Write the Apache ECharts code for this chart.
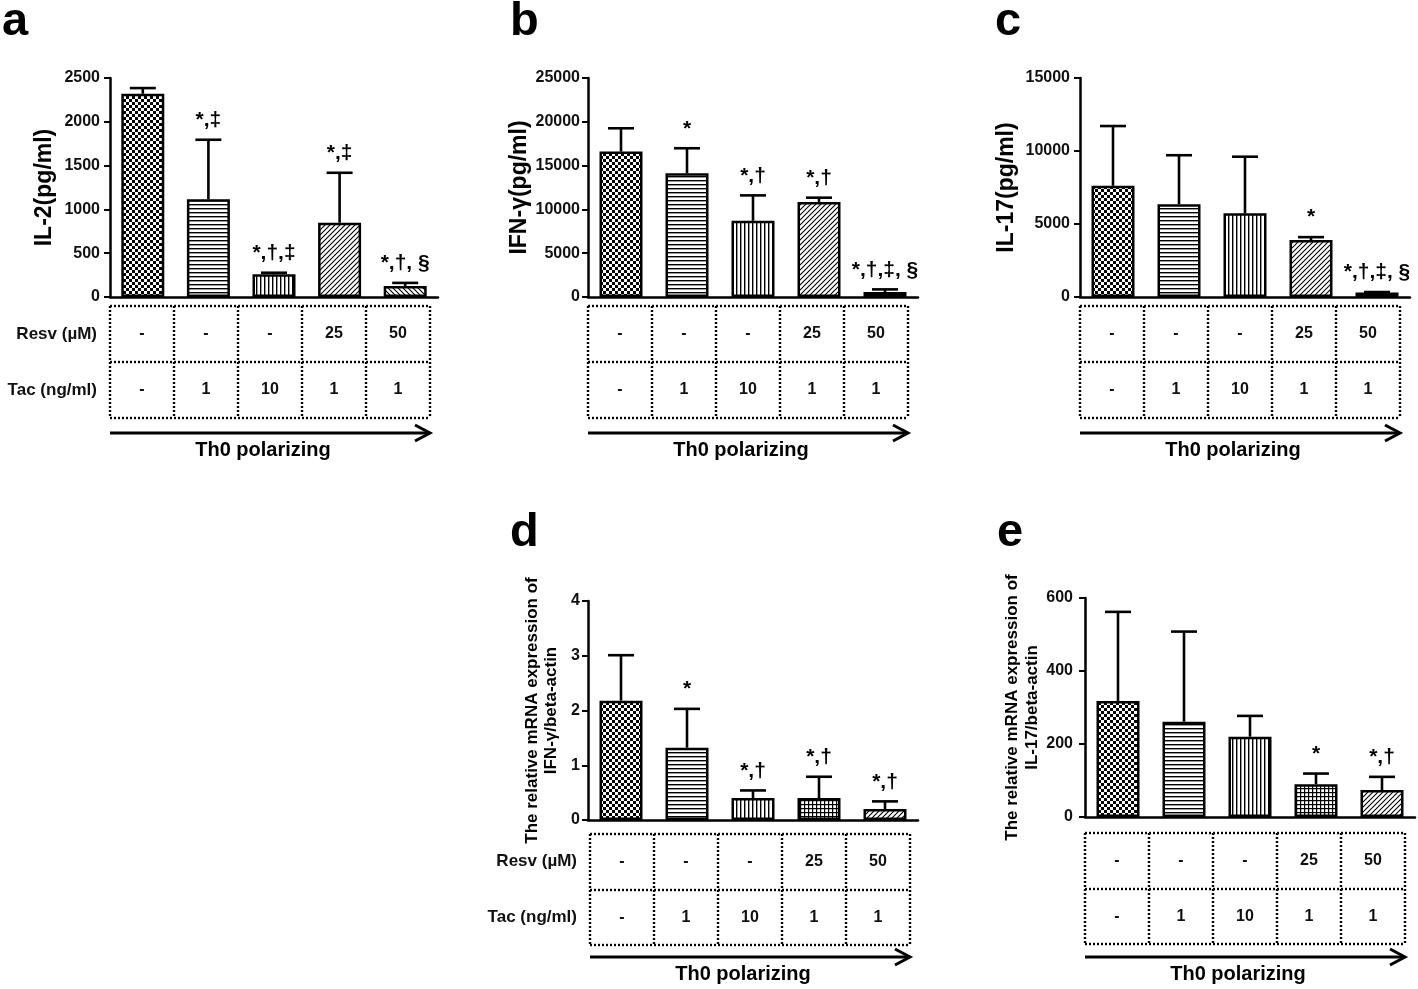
<!DOCTYPE html>
<html><head><meta charset="utf-8">
<script src="https://cdn.jsdelivr.net/npm/echarts@6/dist/echarts.min.js"></script>
<style>html,body{margin:0;padding:0;background:#fff}#c{width:1418px;height:989px}</style>
</head><body><div id="c"></div>
<script>
// ---------------- data ----------------
const groups = ['G1', 'G2', 'G3', 'G4', 'G5'];
const rowNames = ['Tac (ng/ml)', 'Resv (µM)'];
const resvRow = ['-', '-', '-', '25', '50'];
const tacRow = ['-', '1', '10', '1', '1'];
const xTitle = 'Th0 polarizing';

const il2Mean = [2320, 1115, 259, 848, 126];
const il2Err = [65, 680, 18, 570, 35];
const il2Notes = ['', '*,‡', '*,†,‡', '*,‡', '*,†, §'];
const il2Axis = [0, 2500, 500];

const ifngMean = [16600, 14120, 8700, 10850, 570];
const ifngErr = [2660, 2860, 2900, 490, 300];
const ifngNotes = ['', '*', '*,†', '*,†', '*,†,‡, §'];
const ifngAxis = [0, 25000, 5000];

const il17Mean = [7620, 6350, 5730, 3900, 300];
const il17Err = [4090, 3360, 3880, 200, 40];
const il17Notes = ['', '', '', '*', '*,†,‡, §'];
const il17Axis = [0, 15000, 5000];

const ifngMrnaMean = [2.18, 1.32, 0.40, 0.40, 0.20];
const ifngMrnaErr = [0.83, 0.71, 0.14, 0.39, 0.14];
const ifngMrnaNotes = ['', '*', '*,†', '*,†', '*,†'];
const ifngMrnaAxis = [0, 4, 1];

const il17MrnaMean = [318, 261, 220, 90, 74];
const il17MrnaErr = [244, 247, 57, 29, 36];
const il17MrnaNotes = ['', '', '', '*', '*,†'];
const il17MrnaAxis = [0, 600, 200];

// ---------------- styles ----------------
const FONT = '"Liberation Sans", Arial, Helvetica, sans-serif';

function makePattern(kind) {
  const s = kind === 'checker' ? 6 : (kind === 'slash' || kind === 'backslash') ? 5 : 4;
  const cv = document.createElement('canvas');
  cv.width = s; cv.height = s;
  const g = cv.getContext('2d');
  g.fillStyle = '#fff'; g.fillRect(0, 0, s, s);
  g.fillStyle = '#000'; g.strokeStyle = '#000';
  if (kind === 'checker') { g.fillRect(0, 0, 3, 3); g.fillRect(3, 3, 3, 3); }
  else if (kind === 'h') { g.fillRect(0, 0, s, 1.4); }
  else if (kind === 'v') { g.fillRect(0, 0, 1.4, s); }
  else if (kind === 'grid') { g.fillRect(0, 0, s, 1.2); g.fillRect(0, 0, 1.2, s); }
  else if (kind === 'slash' || kind === 'backslash') {
    g.lineWidth = 1.1;
    if (kind === 'backslash') { g.translate(s, 0); g.scale(-1, 1); }
    g.beginPath();
    g.moveTo(0, s); g.lineTo(s, 0);
    g.moveTo(-1, 1); g.lineTo(1, -1);
    g.moveTo(s - 1, s + 1); g.lineTo(s + 1, s - 1);
    g.stroke();
  }
  return { image: cv, repeat: 'repeat' };
}
const patterns = {};
['checker', 'h', 'v', 'grid', 'slash', 'backslash'].forEach(k => patterns[k] = makePattern(k));

const panels = [
  { letter: 'a', letterPos: [2, 22], grid: { left: 110, top: 78, width: 328, height: 219 },
    table: { left: 110, top: 306, width: 320, height: 112 }, arrowY: 433, textY: 450,
    mean: il2Mean, err: il2Err, notes: il2Notes, axis: il2Axis,
    name: 'IL-2(pg/ml)', nameGap: 53, nameSize: 23, nameLH: 24, labelMargin: 10, rowLabels: true,
    pats: ['checker', 'h', 'v', 'slash', 'backslash'] },
  { letter: 'b', letterPos: [510, 22], grid: { left: 588, top: 78, width: 330, height: 219 },
    table: { left: 588, top: 306, width: 320, height: 112 }, arrowY: 433, textY: 450,
    mean: ifngMean, err: ifngErr, notes: ifngNotes, axis: ifngAxis,
    name: 'IFN-γ(pg/ml)', nameGap: 54, nameSize: 23, nameLH: 24, labelMargin: 8, rowLabels: false,
    pats: ['checker', 'h', 'v', 'slash', 'backslash'] },
  { letter: 'c', letterPos: [995, 22], grid: { left: 1080, top: 78, width: 330, height: 219 },
    table: { left: 1080, top: 306, width: 320, height: 112 }, arrowY: 433, textY: 450,
    mean: il17Mean, err: il17Err, notes: il17Notes, axis: il17Axis,
    name: 'IL-17(pg/ml)', nameGap: 61, nameSize: 23, nameLH: 24, labelMargin: 10, rowLabels: false,
    pats: ['checker', 'h', 'v', 'slash', 'backslash'] },
  { letter: 'd', letterPos: [510, 533], grid: { left: 588, top: 601, width: 330, height: 219 },
    table: { left: 590, top: 834, width: 320, height: 111 }, arrowY: 957, textY: 974,
    mean: ifngMrnaMean, err: ifngMrnaErr, notes: ifngMrnaNotes, axis: ifngMrnaAxis,
    name: 'The relative mRNA expression of\nIFN-γ/beta-actin', nameGap: 27, nameSize: 17, nameLH: 19, labelMargin: 8, rowLabels: true,
    pats: ['checker', 'h', 'v', 'grid', 'slash'] },
  { letter: 'e', letterPos: [997, 533], grid: { left: 1085, top: 598, width: 330, height: 219 },
    table: { left: 1085, top: 833, width: 320, height: 111 }, arrowY: 957, textY: 974,
    mean: il17MrnaMean, err: il17MrnaErr, notes: il17MrnaNotes, axis: il17MrnaAxis,
    name: 'The relative mRNA expression of\nIL-17/beta-actin', nameGap: 38, nameSize: 17, nameLH: 20, labelMargin: 12, rowLabels: false,
    pats: ['checker', 'h', 'v', 'grid', 'slash'] }
];

function makeErrRender(notes) {
  return function (params, api) {
    const i = api.value(0), m = api.value(1), e = api.value(2);
    const p0 = api.coord([i, m]);
    const p1 = api.coord([i, m + e]);
    const half = 13;
    const children = [
      { type: 'line', shape: { x1: p0[0], y1: p0[1], x2: p1[0], y2: p1[1] }, style: { stroke: '#000', lineWidth: 2.6 } },
      { type: 'line', shape: { x1: p1[0] - half, y1: p1[1], x2: p1[0] + half, y2: p1[1] }, style: { stroke: '#000', lineWidth: 2.6 } }
    ];
    const note = notes[params.dataIndex];
    if (note) {
      children.push({ type: 'text', x: p1[0], y: p1[1] - 9,
        style: { text: note, font: 'bold 21px ' + FONT, fill: '#000',
          align: 'center', verticalAlign: 'bottom', textAlign: 'center', textVerticalAlign: 'bottom' } });
    }
    return { type: 'group', children };
  };
}

const cellTexts = [tacRow, resvRow];
const cellData = [];
for (let r = 0; r < 2; r++) for (let c = 0; c < groups.length; c++) cellData.push([c, r]);

function cellRender(params, api) {
  const c = api.value(0), r = api.value(1);
  const ctr = api.coord([c, r]);
  const sz = api.size([1, 1]);
  const x0 = Math.round(ctr[0] - sz[0] / 2), x1 = Math.round(ctr[0] + sz[0] / 2);
  const y0 = Math.round(ctr[1] - sz[1] / 2), y1 = Math.round(ctr[1] + sz[1] / 2);
  const ls = { stroke: '#000', lineWidth: 2.4, lineDash: [2, 2] };
  const ch = [
    { type: 'line', shape: { x1: x0, y1: y0, x2: x1, y2: y0 }, style: ls },
    { type: 'line', shape: { x1: x0, y1: y0, x2: x0, y2: y1 }, style: ls }
  ];
  if (c === groups.length - 1) ch.push({ type: 'line', shape: { x1: x1, y1: y0, x2: x1, y2: y1 }, style: ls });
  if (r === 0) ch.push({ type: 'line', shape: { x1: x0, y1: y1, x2: x1, y2: y1 }, style: ls });
  ch.push({ type: 'text', x: ctr[0], y: ctr[1],
    style: { text: cellTexts[r][c], font: 'bold 16px ' + FONT, fill: '#111',
      align: 'center', verticalAlign: 'middle', textAlign: 'center', textVerticalAlign: 'middle' } });
  return { type: 'group', children: ch };
}

const grid = [], xAxis = [], yAxis = [], series = [], graphic = [];
panels.forEach(p => {
  const gi = grid.length;
  grid.push(Object.assign({ containLabel: false }, p.grid));
  xAxis.push({ type: 'category', gridIndex: gi, data: groups, boundaryGap: true,
    axisLine: { lineStyle: { color: '#000', width: 2.5 } },
    axisTick: { alignWithLabel: true, length: 5, lineStyle: { color: '#000', width: 2 } },
    axisLabel: { show: false }, splitLine: { show: false } });
  yAxis.push({ type: 'value', gridIndex: gi, min: p.axis[0], max: p.axis[1], interval: p.axis[2],
    splitLine: { show: false },
    axisLine: { show: true, lineStyle: { color: '#000', width: 2.5 } },
    axisTick: { show: true, length: 6, lineStyle: { color: '#000', width: 2 } },
    axisLabel: { fontFamily: FONT, fontWeight: 'bold', fontSize: 16, color: '#111', margin: p.labelMargin,
      formatter: v => String(v) },
    name: p.name, nameLocation: 'middle', nameRotate: 90, nameGap: p.nameGap,
    nameTextStyle: { fontFamily: FONT, fontWeight: 'bold', fontSize: p.nameSize, color: '#000', lineHeight: p.nameLH, align: 'center' } });
  series.push({ type: 'bar', xAxisIndex: gi, yAxisIndex: gi, barWidth: 43, silent: true, animation: false,
    data: p.mean.map((v, i) => ({ value: v, itemStyle: { color: patterns[p.pats[i]], borderColor: '#000', borderWidth: 2.5 } })) });
  series.push({ type: 'custom', xAxisIndex: gi, yAxisIndex: gi, clip: false, silent: true, animation: false, z: 5,
    encode: { x: 0, y: 1 },
    data: p.mean.map((v, i) => [i, v, p.err[i]]), renderItem: makeErrRender(p.notes) });

  const ti = grid.length;
  grid.push(Object.assign({ containLabel: false }, p.table));
  xAxis.push({ type: 'category', gridIndex: ti, data: groups, show: false });
  yAxis.push({ type: 'category', gridIndex: ti, data: rowNames,
    axisLine: { show: false }, axisTick: { show: false }, splitLine: { show: false },
    axisLabel: { show: p.rowLabels, margin: 13, fontFamily: FONT, fontWeight: 'bold', fontSize: 17, color: '#111' } });
  series.push({ type: 'custom', xAxisIndex: ti, yAxisIndex: ti, clip: false, silent: true, animation: false,
    encode: { x: 0, y: 1 }, data: cellData, renderItem: cellRender });

  graphic.push({ type: 'text', x: p.letterPos[0], y: p.letterPos[1], silent: true,
    style: { text: p.letter, font: 'bold 47px ' + FONT, fill: '#000',
      align: 'left', verticalAlign: 'middle', textAlign: 'left', textVerticalAlign: 'middle' } });
  const ax0 = p.table.left, ax1 = p.table.left + p.table.width, ay = p.arrowY;
  graphic.push({ type: 'line', silent: true, shape: { x1: ax0, y1: ay, x2: ax1 - 1, y2: ay }, style: { stroke: '#000', lineWidth: 3 } });
  graphic.push({ type: 'polyline', silent: true, shape: { points: [[ax1 - 15, ay - 8], [ax1, ay], [ax1 - 15, ay + 8]] },
    style: { stroke: '#000', lineWidth: 3, fill: null } });
  graphic.push({ type: 'text', x: (ax0 + ax1) / 2 - 7, y: p.textY, silent: true,
    style: { text: xTitle, font: 'bold 20px ' + FONT, fill: '#000',
      align: 'center', verticalAlign: 'middle', textAlign: 'center', textVerticalAlign: 'middle' } });
});

const chart = echarts.init(document.getElementById('c'), null, { renderer: 'canvas', width: 1418, height: 989 });
chart.setOption({ backgroundColor: '#fff', animation: false, grid, xAxis, yAxis, series, graphic });
</script></body></html>
